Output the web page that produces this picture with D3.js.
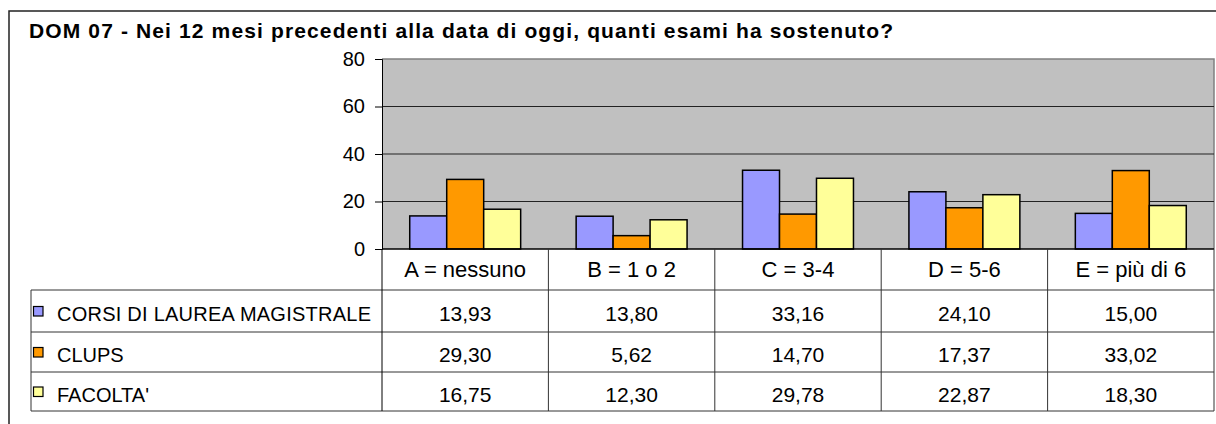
<!DOCTYPE html>
<html lang="en">
    <head>
        <meta charset="utf-8">
        <title>DOM 07</title>
        <script type="text/javascript" src="https://d3js.org/d3.v7.min.js"></script>
        <style type="text/css">
            body { margin: 0; background: white; }
            text { font-family: "Liberation Sans", Arial, sans-serif; fill: black; }
        </style>
    </head>
    <body>
    <script type="text/javascript">

        const width = 1216;
        const height = 424;

        // data
        const categories = ["A = nessuno", "B = 1 o 2", "C = 3-4", "D = 5-6", "E = più di 6"];
        const series = ["CORSI DI LAUREA MAGISTRALE", "CLUPS", "FACOLTA'"];
        const corsi = [13.93, 13.80, 33.16, 24.10, 15.00];
        const clups = [29.30, 5.62, 14.70, 17.37, 33.02];
        const facolta = [16.75, 12.30, 29.78, 22.87, 18.30];
        const yTicks = [0, 20, 40, 60, 80];
        const colors = ["#9999FF", "#FF9900", "#FFFF99"];

        const values = [corsi, clups, facolta];

        // layout
        const plotLeft = 382, plotRight = 1214, plotTop = 59, plotBottom = 249;
        const tableLeft = 31;
        const rowLines = [249, 290, 332, 372, 411];

        const xScale = d3.scaleBand()
            .domain(categories)
            .range([plotLeft, plotRight]);

        const inner = d3.scaleBand()
            .domain(series)
            .range([xScale.bandwidth() / 6, xScale.bandwidth() * 5 / 6]);

        const yScale = d3.scaleLinear()
            .domain([0, 80])
            .range([plotBottom, plotTop]);

        const svg = d3.select("body")
            .append("svg")
            .attr("width", width)
            .attr("height", height);

        // outer frame
        svg.append("rect")
            .attr("x", 9).attr("y", 11)
            .attr("width", width + 20).attr("height", height + 20)
            .attr("fill", "none")
            .attr("stroke", "#222")
            .attr("stroke-width", 1.5);

        // title
        svg.append("text")
            .attr("x", 29)
            .attr("y", 38)
            .attr("font-size", "21px")
            .attr("font-weight", "bold")
            .attr("textLength", 864)
            .attr("lengthAdjust", "spacing")
            .text("DOM 07 - Nei 12 mesi precedenti alla data di oggi, quanti esami ha sostenuto?");

        // plot background
        svg.append("rect")
            .attr("x", plotLeft).attr("y", plotTop)
            .attr("width", plotRight - plotLeft).attr("height", plotBottom - plotTop)
            .attr("fill", "#C0C0C0");

        svg.append("path")
            .attr("d", `M${plotLeft},${plotTop}H${plotRight}V${plotBottom}`)
            .attr("fill", "none")
            .attr("stroke", "#808080")
            .attr("stroke-width", 1.5);

        // gridlines
        svg.selectAll("line.grid")
            .data(yTicks.filter(d => d > 0 && d < 80))
            .enter()
            .append("line")
            .attr("class", "grid")
            .attr("x1", plotLeft).attr("x2", plotRight)
            .attr("y1", d => yScale(d)).attr("y2", d => yScale(d))
            .attr("stroke", "#222")
            .attr("stroke-width", 1);

        // bars
        const groups = svg.selectAll("g.series")
            .data(series)
            .enter()
            .append("g")
            .attr("class", "series")
            .attr("fill", (d, i) => colors[i]);

        groups.selectAll("rect")
            .data((s, i) => values[i].map((v, j) => ({s: s, cat: categories[j], v: v})))
            .enter()
            .append("rect")
            .attr("x", d => xScale(d.cat) + inner(d.s))
            .attr("y", d => yScale(d.v))
            .attr("width", inner.bandwidth())
            .attr("height", d => yScale(0) - yScale(d.v))
            .attr("stroke", "black")
            .attr("stroke-width", 1.5);

        // left axis
        const leftAxis = d3.axisLeft(yScale)
            .tickValues(yTicks)
            .tickSize(7)
            .tickPadding(10);

        const axisG = svg.append("g")
            .attr("class", "axis")
            .attr("transform", `translate(${plotLeft},0)`)
            .attr("font-size", 20)
            .attr("font-family", "Liberation Sans, Arial, sans-serif")
            .call(leftAxis);
        axisG.select(".domain").attr("stroke", "black");
        axisG.selectAll(".tick line").attr("stroke", "black");
        axisG.selectAll(".tick text").attr("font-size", "20px").attr("fill", "black");

        // table lines
        svg.append("line")
            .attr("x1", plotLeft).attr("x2", plotRight)
            .attr("y1", plotBottom).attr("y2", plotBottom)
            .attr("stroke", "black").attr("stroke-width", 1.5);

        svg.selectAll("line.row")
            .data(rowLines.slice(1))
            .enter()
            .append("line")
            .attr("class", "row")
            .attr("x1", tableLeft).attr("x2", plotRight)
            .attr("y1", d => d).attr("y2", d => d)
            .attr("stroke", "#333").attr("stroke-width", 1);

        svg.append("line")
            .attr("x1", tableLeft).attr("x2", tableLeft)
            .attr("y1", rowLines[1]).attr("y2", rowLines[4])
            .attr("stroke", "#333");

        svg.selectAll("line.col")
            .data(categories.map(c => xScale(c)).concat([plotRight]))
            .enter()
            .append("line")
            .attr("class", "col")
            .attr("x1", d => d).attr("x2", d => d)
            .attr("y1", plotBottom).attr("y2", rowLines[4])
            .attr("stroke", (d, i) => i === 0 ? "black" : "#333")
            .attr("stroke-width", 1);

        // header labels
        svg.selectAll("text.cat")
            .data(categories)
            .enter()
            .append("text")
            .attr("class", "cat")
            .attr("x", d => xScale(d) + xScale.bandwidth() / 2)
            .attr("y", 277)
            .attr("font-size", "22px")
            .attr("text-anchor", "middle")
            .text(d => d);

        // value rows
        series.forEach((s, i) => {
            const yMid = (rowLines[i + 1] + rowLines[i + 2]) / 2;

            svg.append("rect")
                .attr("x", 33.5).attr("y", yMid - 4.5)
                .attr("width", 9.5).attr("height", 9.5)
                .attr("fill", colors[i])
                .attr("stroke", "black")
                .attr("stroke-width", 1.2);

            svg.append("text")
                .attr("x", 57)
                .attr("y", yMid + 10)
                .attr("font-size", "20px")
                .attr("textLength", i === 0 ? 314 : null)
                .text(s);

            svg.selectAll("text.v" + i)
                .data(values[i])
                .enter()
                .append("text")
                .attr("class", "v" + i)
                .attr("x", (d, j) => xScale(categories[j]) + xScale.bandwidth() / 2)
                .attr("y", yMid + 10)
                .attr("font-size", "21px")
                .attr("text-anchor", "middle")
                .text(d => d.toFixed(2).replace(".", ","));
        });

    </script>
    </body>
</html>
